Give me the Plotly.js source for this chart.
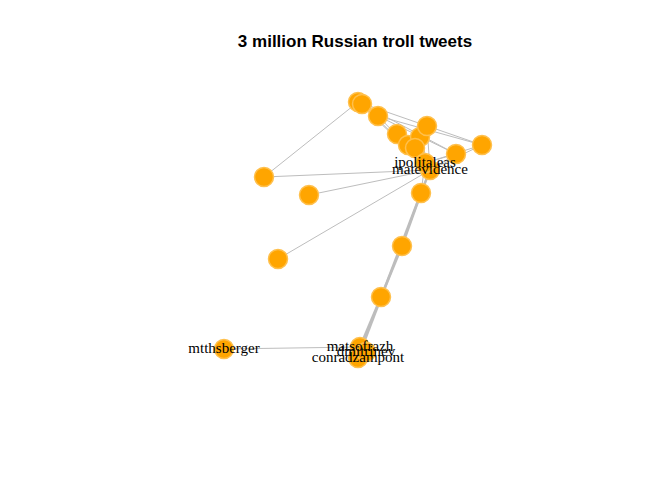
<!DOCTYPE html>
<html><head><script src="https://cdn.plot.ly/plotly-2.35.2.min.js"></script></head>
<body style="margin:0"><div id="g" style="width:672px;height:480px"></div>
<script>
// node layout positions (graph layout coordinates)
const nodeX = [430,358,362,378,397,408,420,427,415,456,482,264,309,421,402,278,381,360,224,358,425,366];
const nodeY = [170,102,104,116,134,145,137,126,148,154,145,177,195,193,246,259,297,347,349,358,163,352];
const nodeLabels = ["matevidence","","","","","","","","","","","","","","","","","matsofrazh","mtthsberger","conradzampont","ipolitaleas","dmitrinev"];
const edgeFrom = [0,0,0,0,0,0,0,0,0,0,0,0,0,11,1,3,3,1,13,14,16,20,20,0,17,20,13];
const edgeTo   = [11,12,15,1,2,3,4,5,6,7,8,9,10,1,9,10,9,10,14,16,17,9,10,13,18,13,19];

const traces = [];
for (let i = 0; i < edgeFrom.length; i++) {
  const a = edgeFrom[i], b = edgeTo[i];
  traces.push({type:'scatter', mode:'lines', x:[nodeX[a],nodeX[b]], y:[nodeY[a],nodeY[b]],
    line:{color:'#bdbdbd', width: (i>=18 && i<=20)||i==23||i==26 ? 2.5 : 1}, hoverinfo:'skip', showlegend:false});
}
traces.push({type:'scatter', mode:'markers+text', x:nodeX, y:nodeY, text:nodeLabels,
  textposition:'middle center', textfont:{family:'Liberation Serif, Times New Roman, serif', size:15, color:'#000'},
  marker:{size:19, color:'#FFA500', line:{color:'#FFC04D', width:1.5}}, showlegend:false});

Plotly.newPlot('g', traces, {
  width:672, height:480, margin:{l:0,r:0,t:0,b:0},
  paper_bgcolor:'#fff', plot_bgcolor:'#fff',
  title:{text:'<b>3 million Russian troll tweets</b>', x:355/672, xanchor:'center', y:1-41/480, yanchor:'middle',
    font:{family:'Liberation Sans, Arial, sans-serif', size:17, color:'#000'}},
  xaxis:{range:[0,672], visible:false, fixedrange:true},
  yaxis:{range:[480,0], visible:false, fixedrange:true}
}, {staticPlot:true});
</script></body></html>
